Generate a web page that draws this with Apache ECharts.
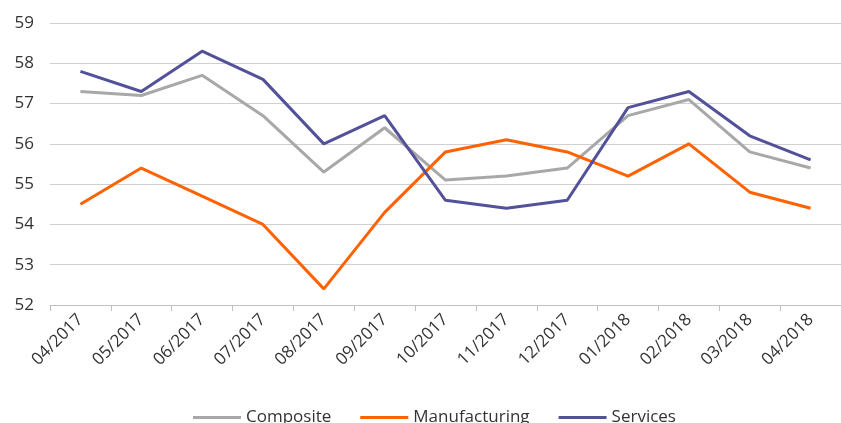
<!DOCTYPE html>
<html>
<head>
<meta charset="utf-8">
<script src="https://cdn.jsdelivr.net/npm/echarts@6/dist/echarts.min.js"></script>
<style>
  html, body { margin: 0; padding: 0; background: #fff; }
  #chart { width: 841px; height: 423px; }
</style>
</head>
<body>
<div id="chart"></div>
<script>
// Monthly PMI readings, 04/2017 – 04/2018
const months = ['04/2017','05/2017','06/2017','07/2017','08/2017','09/2017','10/2017',
                '11/2017','12/2017','01/2018','02/2018','03/2018','04/2018'];
const composite     = [57.3, 57.2, 57.7, 56.7, 55.3, 56.4, 55.1, 55.2, 55.4, 56.7, 57.1, 55.8, 55.4];
const manufacturing = [54.5, 55.4, 54.7, 54.0, 52.4, 54.3, 55.8, 56.1, 55.8, 55.2, 56.0, 54.8, 54.4];
const services      = [57.8, 57.3, 58.3, 57.6, 56.0, 56.7, 54.6, 54.4, 54.6, 56.9, 57.3, 56.2, 55.6];

const font = 'Open Sans';
const chart = echarts.init(document.getElementById('chart'));

function lineSeries(name, data, color) {
  return {
    name, type: 'line', data,
    symbol: 'none',
    lineStyle: { width: 3, color },
    itemStyle: { color },
    animation: false
  };
}

chart.setOption({
  animation: false,
  grid: { left: 50, right: -8, top: 23, bottom: 118 },
  legend: {
    bottom: -8,
    left: 188,
    itemWidth: 48,
    itemHeight: 3,
    itemGap: 29,
    icon: 'rect',
    textStyle: { fontFamily: font, fontSize: 17, color: '#333' },
    data: ['Composite', 'Manufacturing', 'Services']
  },
  xAxis: {
    type: 'category',
    data: months,
    boundaryGap: true,
    axisLine: { lineStyle: { color: '#bfbfbf', width: 1 } },
    axisTick: { show: true, length: 6, lineStyle: { color: '#bfbfbf' } },
    axisLabel: {
      rotate: 45, interval: 0, fontFamily: font, fontSize: 17, color: '#333', margin: 12
    }
  },
  yAxis: {
    type: 'value',
    min: 52, max: 59, interval: 1,
    axisLine: { show: false },
    axisTick: { show: false },
    axisLabel: { fontFamily: font, fontSize: 17, color: '#333', margin: 16 },
    splitLine: { lineStyle: { color: '#d0d0d0', width: 1 } }
  },
  series: [
    lineSeries('Composite', composite, '#a8a8a8'),
    lineSeries('Manufacturing', manufacturing, '#ff6200'),
    lineSeries('Services', services, '#525199')
  ]
});
</script>
</body>
</html>
